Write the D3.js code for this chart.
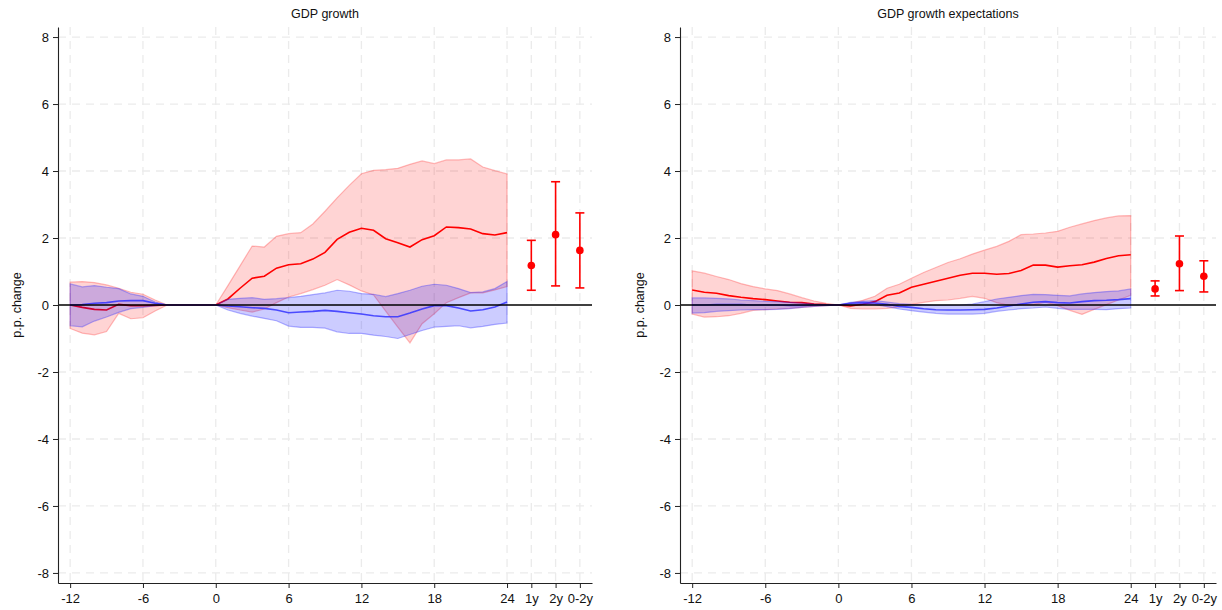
<!DOCTYPE html>
<html>
<head>
<meta charset="utf-8">
<script src="https://cdn.jsdelivr.net/npm/d3@7"></script>
<style>
  html, body { margin: 0; padding: 0; background: #fff; }
  svg { display: block; font-family: "Liberation Sans", Arial, Helvetica, sans-serif; }
</style>
</head>
<body>
<svg id="chart" width="1222" height="610"></svg>
<script>
// Event-time horizon in months
const months = d3.range(-12, 25);
const summaryLabels = ["1y", "2y", "0-2y"];
const summaryPos = [26, 28, 30];
const xTickValues = [-12, -6, 0, 6, 12, 18, 24];
const yTickValues = [-8, -6, -4, -2, 0, 2, 4, 6, 8];

// GDP growth: treated (red) and control (blue) responses with confidence bands
const gdpRedMid = [0, -0.07, -0.13, -0.15, 0.02, -0.02, -0.02, -0.01, 0, 0, 0, 0, 0,
  0.18, 0.5, 0.8, 0.86, 1.1, 1.2, 1.23, 1.37, 1.57, 1.96, 2.17, 2.29,
  2.23, 1.98, 1.86, 1.73, 1.95, 2.07, 2.33, 2.31, 2.27, 2.13, 2.09, 2.16];
const gdpRedHi = [0.68, 0.7, 0.67, 0.6, 0.5, 0.38, 0.32, 0.15, 0, 0, 0, 0, 0,
  0.58, 1.17, 1.76, 1.73, 2.05, 2.13, 2.16, 2.42, 2.8, 3.2, 3.57, 3.92,
  4.02, 4.04, 4.08, 4.2, 4.3, 4.22, 4.33, 4.33, 4.36, 4.12, 4.01, 3.91];
const gdpRedLo = [-0.7, -0.84, -0.89, -0.79, -0.25, -0.41, -0.38, -0.18, 0, 0, 0, 0, 0,
  -0.08, -0.15, -0.21, -0.12, 0.07, 0.24, 0.34, 0.46, 0.59, 0.76, 0.6, 0.42,
  0.3, -0.18, -0.66, -1.13, -0.56, -0.26, 0.07, 0.22, 0.36, 0.36, 0.45, 0.55];
const gdpBlueMid = [0, 0.01, 0.05, 0.07, 0.12, 0.13, 0.13, 0.05, 0, 0, 0, 0, 0,
  -0.03, -0.05, -0.08, -0.1, -0.15, -0.23, -0.21, -0.19, -0.16, -0.19, -0.23, -0.27,
  -0.32, -0.35, -0.35, -0.24, -0.12, -0.02, -0.02, -0.09, -0.18, -0.14, -0.06, 0.09];
const gdpBlueHi = [0.63, 0.54, 0.58, 0.53, 0.49, 0.33, 0.26, 0.09, 0, 0, 0, 0, 0,
  0.17, 0.2, 0.22, 0.17, 0.19, 0.22, 0.26, 0.31, 0.36, 0.44, 0.41, 0.34,
  0.32, 0.25, 0.34, 0.44, 0.56, 0.62, 0.59, 0.49, 0.37, 0.39, 0.49, 0.7];
const gdpBlueLo = [-0.62, -0.65, -0.48, -0.36, -0.22, -0.11, -0.07, -0.02, 0, 0, 0, 0, 0,
  -0.15, -0.25, -0.33, -0.4, -0.47, -0.63, -0.67, -0.67, -0.69, -0.8, -0.85, -0.85,
  -0.9, -0.94, -1.0, -0.88, -0.76, -0.66, -0.64, -0.62, -0.68, -0.64, -0.58, -0.54];
const gdpSummaryMid = [1.18, 2.10, 1.63];
const gdpSummaryLo = [0.44, 0.57, 0.51];
const gdpSummaryHi = [1.93, 3.68, 2.75];

// GDP growth expectations
const expRedMid = [0.45, 0.38, 0.35, 0.28, 0.23, 0.19, 0.16, 0.12, 0.08, 0.07, 0.03, 0.01, 0,
  -0.03, 0.02, 0.1, 0.29, 0.36, 0.53, 0.62, 0.71, 0.8, 0.89, 0.95, 0.95,
  0.92, 0.94, 1.03, 1.19, 1.19, 1.13, 1.17, 1.2, 1.28, 1.39, 1.47, 1.5];
const expRedHi = [1.02, 0.95, 0.85, 0.76, 0.64, 0.55, 0.48, 0.43, 0.33, 0.22, 0.12, 0.05, 0,
  0.06, 0.14, 0.26, 0.5, 0.62, 0.8, 0.97, 1.12, 1.27, 1.38, 1.52, 1.64,
  1.75, 1.9, 2.1, 2.12, 2.15, 2.2, 2.32, 2.42, 2.52, 2.6, 2.66, 2.67];
const expRedLo = [-0.27, -0.36, -0.35, -0.32, -0.25, -0.16, -0.14, -0.12, -0.1, -0.07, -0.04, -0.02, 0,
  -0.1, -0.12, -0.12, -0.1, -0.06, 0.02, 0.08, 0.13, 0.15, 0.2, 0.26, 0.2,
  0.07, -0.01, 0.0, 0.01, 0.08, -0.02, -0.16, -0.28, -0.13, 0.01, 0.15, 0.29];
const expBlueMid = [0, 0, 0.01, 0.01, 0.01, 0, 0, 0, -0.01, -0.01, 0, 0, 0,
  0.05, 0.07, 0.06, 0.02, -0.04, -0.07, -0.11, -0.14, -0.15, -0.15, -0.14, -0.13,
  -0.09, -0.03, 0.03, 0.08, 0.1, 0.07, 0.06, 0.1, 0.13, 0.14, 0.16, 0.19];
const expBlueHi = [0.21, 0.21, 0.2, 0.18, 0.15, 0.13, 0.11, 0.1, 0.08, 0.06, 0.03, 0.01, 0,
  0.08, 0.11, 0.13, 0.09, 0.04, 0.02, 0.01, -0.01, -0.01, 0.0, 0.03, 0.1,
  0.18, 0.23, 0.28, 0.32, 0.31, 0.29, 0.27, 0.33, 0.37, 0.4, 0.42, 0.48];
const expBlueLo = [-0.24, -0.23, -0.19, -0.17, -0.15, -0.14, -0.14, -0.13, -0.11, -0.07, -0.04, -0.02, 0,
  0.01, 0.03, 0.01, -0.05, -0.12, -0.17, -0.21, -0.25, -0.27, -0.27, -0.27, -0.25,
  -0.19, -0.15, -0.11, -0.09, -0.06, -0.1, -0.13, -0.13, -0.13, -0.14, -0.11, -0.09];
const expSummaryMid = [0.48, 1.23, 0.86];
const expSummaryLo = [0.27, 0.43, 0.39];
const expSummaryHi = [0.72, 2.06, 1.32];

const panels = [
  { title: "GDP growth", left: 58, right: 592,
    red: [gdpRedLo, gdpRedMid, gdpRedHi], blue: [gdpBlueLo, gdpBlueMid, gdpBlueHi],
    summary: [gdpSummaryLo, gdpSummaryMid, gdpSummaryHi], ylabX: 17 },
  { title: "GDP growth expectations", left: 680, right: 1216,
    red: [expRedLo, expRedMid, expRedHi], blue: [expBlueLo, expBlueMid, expBlueHi],
    summary: [expSummaryLo, expSummaryMid, expSummaryHi], ylabX: 640 }
];

const svg = d3.select("#chart");
const plotTop = 27, plotBottom = 583;
const y = d3.scaleLinear().domain([-8.3, 8.3]).range([plotBottom, plotTop]);

const redFill = "rgba(255, 0, 0, 0.17)", redEdge = "rgba(255, 60, 60, 0.35)";
const blueFill = "rgba(0, 0, 255, 0.2)", blueEdge = "rgba(40, 40, 255, 0.35)";

panels.forEach(p => {
  const x = d3.scaleLinear().domain([-13, 31]).range([p.left, p.right]);
  const g = svg.append("g");

  // dashed grid
  const gridX = xTickValues.concat(summaryPos);
  g.append("g").selectAll("line").data(gridX).join("line")
    .attr("x1", d => x(d)).attr("x2", d => x(d))
    .attr("y1", plotTop).attr("y2", plotBottom)
    .attr("stroke", "#ebebeb").attr("stroke-width", 1.3).attr("stroke-dasharray", "8,6");
  g.append("g").selectAll("line").data(yTickValues.filter(v => v !== 0)).join("line")
    .attr("x1", p.left).attr("x2", p.right)
    .attr("y1", d => y(d)).attr("y2", d => y(d))
    .attr("stroke", "#ebebeb").attr("stroke-width", 1.3).attr("stroke-dasharray", "8,6");

  const band = (lo, hi) => d3.area()
    .x((d, i) => x(months[i])).y0((d, i) => y(lo[i])).y1((d, i) => y(hi[i]))(months);
  const line = vals => d3.line().x((d, i) => x(months[i])).y((d, i) => y(vals[i]))(months);

  // red band and line
  g.append("path").attr("d", band(p.red[0], p.red[2]))
    .attr("fill", redFill).attr("stroke", redEdge).attr("stroke-width", 1.2);
  g.append("path").attr("d", line(p.red[1]))
    .attr("fill", "none").attr("stroke", "#ff0000").attr("stroke-width", 1.6);

  // blue band and line
  g.append("path").attr("d", band(p.blue[0], p.blue[2]))
    .attr("fill", blueFill).attr("stroke", blueEdge).attr("stroke-width", 1.2);
  g.append("path").attr("d", line(p.blue[1]))
    .attr("fill", "none").attr("stroke", "rgba(50, 50, 255, 0.85)").attr("stroke-width", 1.6);

  // zero line
  g.append("line").attr("x1", p.left).attr("x2", p.right)
    .attr("y1", y(0)).attr("y2", y(0)).attr("stroke", "#000").attr("stroke-width", 1.6);

  // summary estimates with confidence intervals
  const [sLo, sMid, sHi] = p.summary;
  const eb = g.append("g").selectAll("g").data(summaryPos).join("g");
  eb.append("line").attr("x1", d => x(d)).attr("x2", d => x(d))
    .attr("y1", (d, i) => y(sLo[i])).attr("y2", (d, i) => y(sHi[i]))
    .attr("stroke", "#ff0000").attr("stroke-width", 1.6);
  eb.append("line").attr("x1", d => x(d) - 4.5).attr("x2", d => x(d) + 4.5)
    .attr("y1", (d, i) => y(sLo[i])).attr("y2", (d, i) => y(sLo[i]))
    .attr("stroke", "#ff0000").attr("stroke-width", 1.6);
  eb.append("line").attr("x1", d => x(d) - 4.5).attr("x2", d => x(d) + 4.5)
    .attr("y1", (d, i) => y(sHi[i])).attr("y2", (d, i) => y(sHi[i]))
    .attr("stroke", "#ff0000").attr("stroke-width", 1.6);
  eb.append("circle").attr("cx", d => x(d)).attr("cy", (d, i) => y(sMid[i]))
    .attr("r", 3.8).attr("fill", "#ff0000");

  // axes
  const xAxis = d3.axisBottom(x)
    .tickValues(xTickValues.concat(summaryPos))
    .tickFormat(d => { const k = summaryPos.indexOf(d); return k >= 0 ? summaryLabels[k] : String(d); })
    .tickSize(5).tickSizeOuter(0).tickPadding(6);
  const ax = g.append("g").attr("transform", `translate(0,${plotBottom})`).call(xAxis);
  ax.select(".domain").attr("stroke", "#222").attr("stroke-width", 1.1);
  ax.selectAll(".tick line").attr("stroke", "#222");
  ax.selectAll("text").attr("font-size", 13).attr("fill", "#111")
    .attr("font-family", "\"Liberation Sans\", Arial, sans-serif");

  const yAxis = d3.axisLeft(y).tickValues(yTickValues)
    .tickFormat(d => String(d)).tickSize(5).tickSizeOuter(0).tickPadding(4);
  const ay = g.append("g").attr("transform", `translate(${p.left},0)`).call(yAxis);
  ay.select(".domain").attr("stroke", "#222").attr("stroke-width", 1.1);
  ay.selectAll(".tick line").attr("stroke", "#222");
  ay.selectAll("text").attr("font-size", 13).attr("fill", "#111")
    .attr("font-family", "\"Liberation Sans\", Arial, sans-serif");

  // titles
  g.append("text").attr("x", (p.left + p.right) / 2).attr("y", 18)
    .attr("text-anchor", "middle").attr("font-size", 12.5).attr("fill", "#111")
    .text(p.title);
  g.append("text").attr("transform", `translate(${p.ylabX},${y(0)}) rotate(-90)`)
    .attr("text-anchor", "middle").attr("dy", "0.35em")
    .attr("font-size", 12.5).attr("fill", "#111").text("p.p. change");
});
</script>
</body>
</html>
